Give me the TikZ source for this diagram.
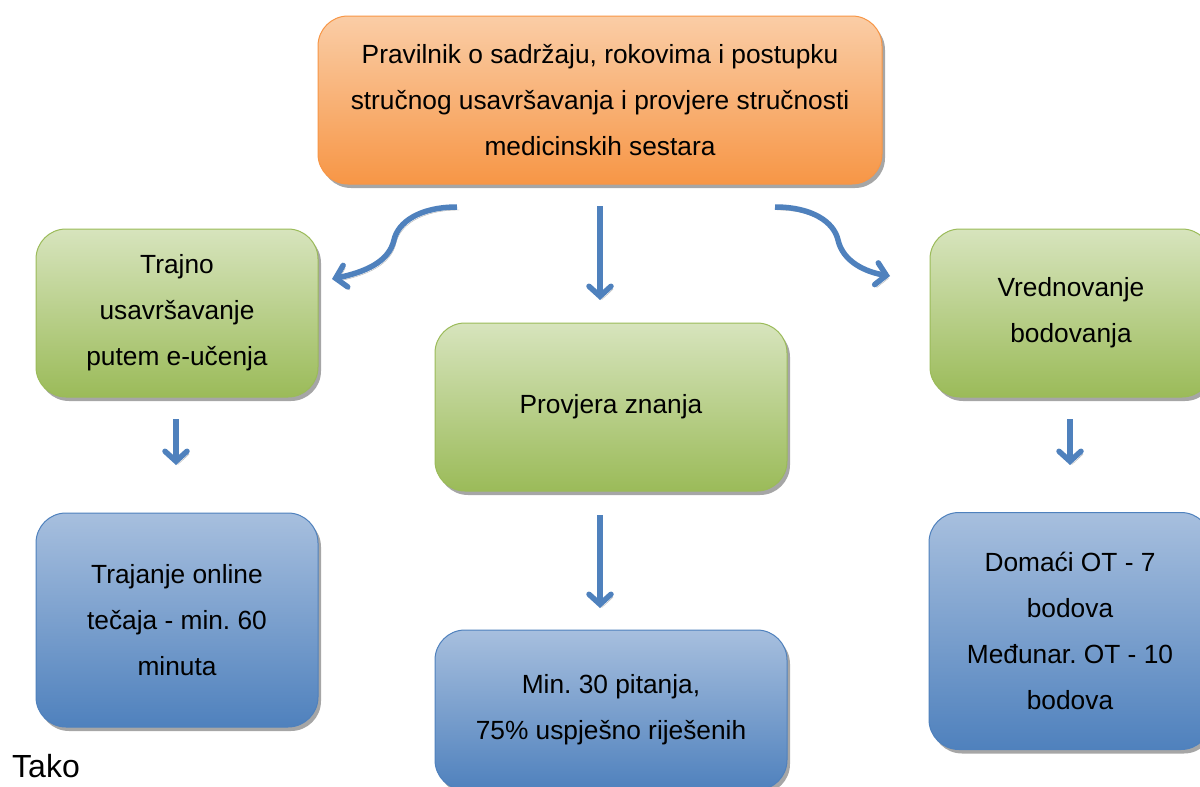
\documentclass[tikz,border=0pt]{standalone}
\usepackage{fontspec}
\setmainfont{Liberation Sans}
\usetikzlibrary{shadows,arrows.meta}
\definecolor{orTop}{HTML}{FACDA6}
\definecolor{orBot}{HTML}{F79646}
\definecolor{grTop}{HTML}{D7E4BD}
\definecolor{grBot}{HTML}{9BBB59}
\definecolor{grLine}{HTML}{9BBB59}
\definecolor{blTop}{HTML}{A7BFDE}
\definecolor{blBot}{HTML}{4F81BD}
\definecolor{blLine}{HTML}{4F81BD}
\frenchspacing
\tikzset{
  box/.style={rounded corners=30pt, line width=1pt, align=center, inner sep=0pt,
    font=\fontsize{26.3}{46}\selectfont,
    drop shadow={shadow xshift=3pt, shadow yshift=-4pt, fill=black, opacity=0.35}},
  orangebox/.style={box, draw=orBot, top color=orTop, bottom color=orBot},
  greenbox/.style={box, draw=grLine, top color=grTop, bottom color=grBot},
  bluebox/.style={box, draw=blLine, top color=blTop, bottom color=blBot},
  conn/.style={line width=5.5pt, draw=blLine,
    -{Straight Barb[length=10pt,width=22pt,line cap=round]},
    preaction={draw=black!30, transform canvas={shift={(2pt,-3pt)}}}}
}
\begin{document}
\begin{tikzpicture}[x=1pt,y=-1pt]
\clip (0,0) rectangle (1200,787);
\fill[white] (0,0) rectangle (1200,787);
\node[orangebox, minimum width=564pt, minimum height=168pt] (top) at (600,100)
  {Pravilnik o sadržaju, rokovima i postupku\\stručnog usavršavanja i provjere stručnosti\\medicinskih sestara};
\node[greenbox, minimum width=282pt, minimum height=168pt] (gl) at (177,313)
  {Trajno\\usavršavanje\\putem e-učenja};
\node[greenbox, minimum width=352pt, minimum height=168pt] (gm) at (611,407)
  {Provjera znanja};
\node[greenbox, minimum width=282pt, minimum height=168pt] (gr) at (1071,313)
  {Vrednovanje\\bodovanja};
\node[bluebox, minimum width=282pt, minimum height=214pt] (bl) at (177,620)
  {Trajanje online\\tečaja - min. 60\\minuta};
\node[bluebox, minimum width=352pt, minimum height=160pt] (bm) at (611,710)
  {Min. 30 pitanja,\\75\% uspješno riješenih};
\node[bluebox, minimum width=282pt, minimum height=237pt] (br) at (1070,631)
  {Domaći OT - 7\\bodova\\Međunar. OT - 10\\bodova};
\node[anchor=west, inner sep=0pt, font=\fontsize{32}{36}\selectfont] (tako) at (12,766) {Tako};
% arrow anchor coordinates
\coordinate (a1s) at (457,207);
\coordinate (a1e) at (332,279);
\coordinate (a2s) at (600,206);
\coordinate (a2e) at (600,300);
\coordinate (a3s) at (775,207);
\coordinate (a3e) at (890,276);
\coordinate (a4s) at (176,419);
\coordinate (a4e) at (176,465);
\coordinate (a5s) at (600,515);
\coordinate (a5e) at (600,608);
\coordinate (a6s) at (1070,419);
\coordinate (a6e) at (1070,465);
\draw[conn] (a1s) .. controls (420,207) and (398,222) .. (394,240)
  .. controls (389,262) and (365,272) .. (a1e);
\draw[conn] (a2s) -- (a2e);
\draw[conn] (a3s) .. controls (812,207) and (834,222) .. (838,240)
  .. controls (843,262) and (866,272) .. (a3e);
\draw[conn] (a4s) -- (a4e);
\draw[conn] (a5s) -- (a5e);
\draw[conn] (a6s) -- (a6e);
\end{tikzpicture}
\end{document}
